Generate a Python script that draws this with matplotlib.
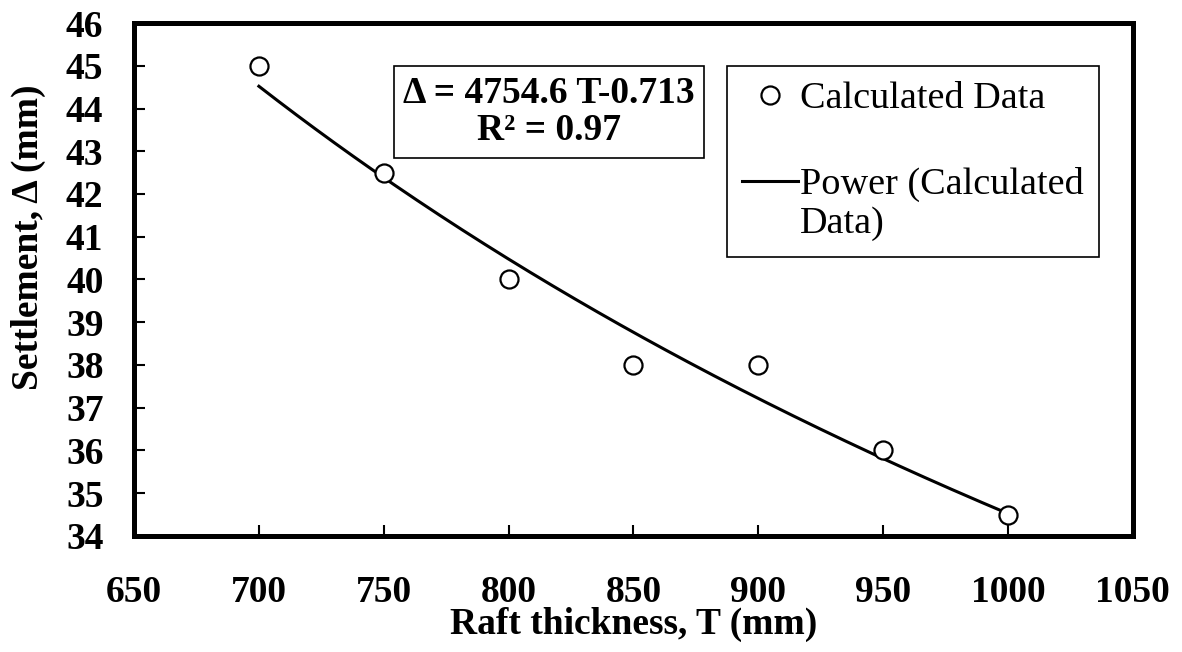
import numpy as np
import matplotlib.pyplot as plt
from matplotlib.lines import Line2D

# data
thickness = [700, 750, 800, 850, 900, 950, 1000]
settlement = [45.0, 42.5, 40.0, 38.0, 38.0, 36.0, 34.5]

# power trendline coefficients shown on the chart
coef_a = 4754.6
coef_b = -0.713
r_squared = 0.97

x_ticks = [650, 700, 750, 800, 850, 900, 950, 1000, 1050]
y_ticks = list(range(34, 47))

plt.rcParams['font.family'] = ['Liberation Serif', 'DejaVu Serif']

fig = plt.figure(figsize=(11.82, 6.52), dpi=100)
ax = fig.add_axes([0.1134, 0.178, 0.845, 0.7867])

ax.plot(thickness, settlement, linestyle='none', marker='o', markersize=13,
        markerfacecolor='white', markeredgecolor='black', markeredgewidth=1.6,
        zorder=3)

t_fit = np.linspace(min(thickness), max(thickness), 200)
ax.plot(t_fit, coef_a * t_fit ** coef_b, color='black', linewidth=2.2, zorder=2)

ax.set_xlim(650, 1050)
ax.set_ylim(34, 46)
ax.set_xticks(x_ticks)
ax.set_yticks(y_ticks)
ax.tick_params(axis='both', direction='in', length=8, width=1.5,
               labelsize=27)
ax.tick_params(axis='x', pad=28)
ax.tick_params(axis='y', pad=22)
for lbl in ax.get_xticklabels() + ax.get_yticklabels():
    lbl.set_fontweight('bold')
for sp in ax.spines.values():
    sp.set_linewidth(3.6)

ax.set_xlabel('Raft thickness, T (mm)', fontsize=27, fontweight='bold', labelpad=-2)
ax.set_ylabel('Settlement, Δ (mm)', fontsize=27, fontweight='bold')
ax.yaxis.set_label_coords(-0.088, 0.583)

ax.text(549 / 1182, 1 - 112 / 652,
        f'Δ = {coef_a} T{coef_b}\nR² = {r_squared}',
        transform=fig.transFigure, ha='center', va='center',
        fontsize=27, fontweight='bold', linespacing=1.1,
        bbox=dict(boxstyle='square,pad=0.25', facecolor='white',
                  edgecolor='black', linewidth=1.2))

handles = [
    Line2D([], [], linestyle='none', marker='o', markersize=13,
           markerfacecolor='white', markeredgecolor='black', markeredgewidth=1.6),
    Line2D([], [], color='black', linewidth=2.2),
]
leg_size = 27.5
leg = ax.legend(handles, ['Calculated Data', 'Power (Calculated\nData)'],
                loc='upper left', bbox_to_anchor=(727 / 1182, 1 - 66 / 652),
                bbox_transform=fig.transFigure, fontsize=leg_size, frameon=True,
                fancybox=False, edgecolor='black', framealpha=1,
                borderaxespad=0, borderpad=0.4, labelspacing=1.32,
                handlelength=1.45, handletextpad=0.05)
leg.get_frame().set_linewidth(1.2)

# put the trendline handle next to the first line of its two-line label
trend_handle = leg.legend_handles[1]
trend_handle.set_ydata(np.asarray(trend_handle.get_ydata()) + 0.6 * leg_size)

fig.savefig('out.png', dpi=100)
